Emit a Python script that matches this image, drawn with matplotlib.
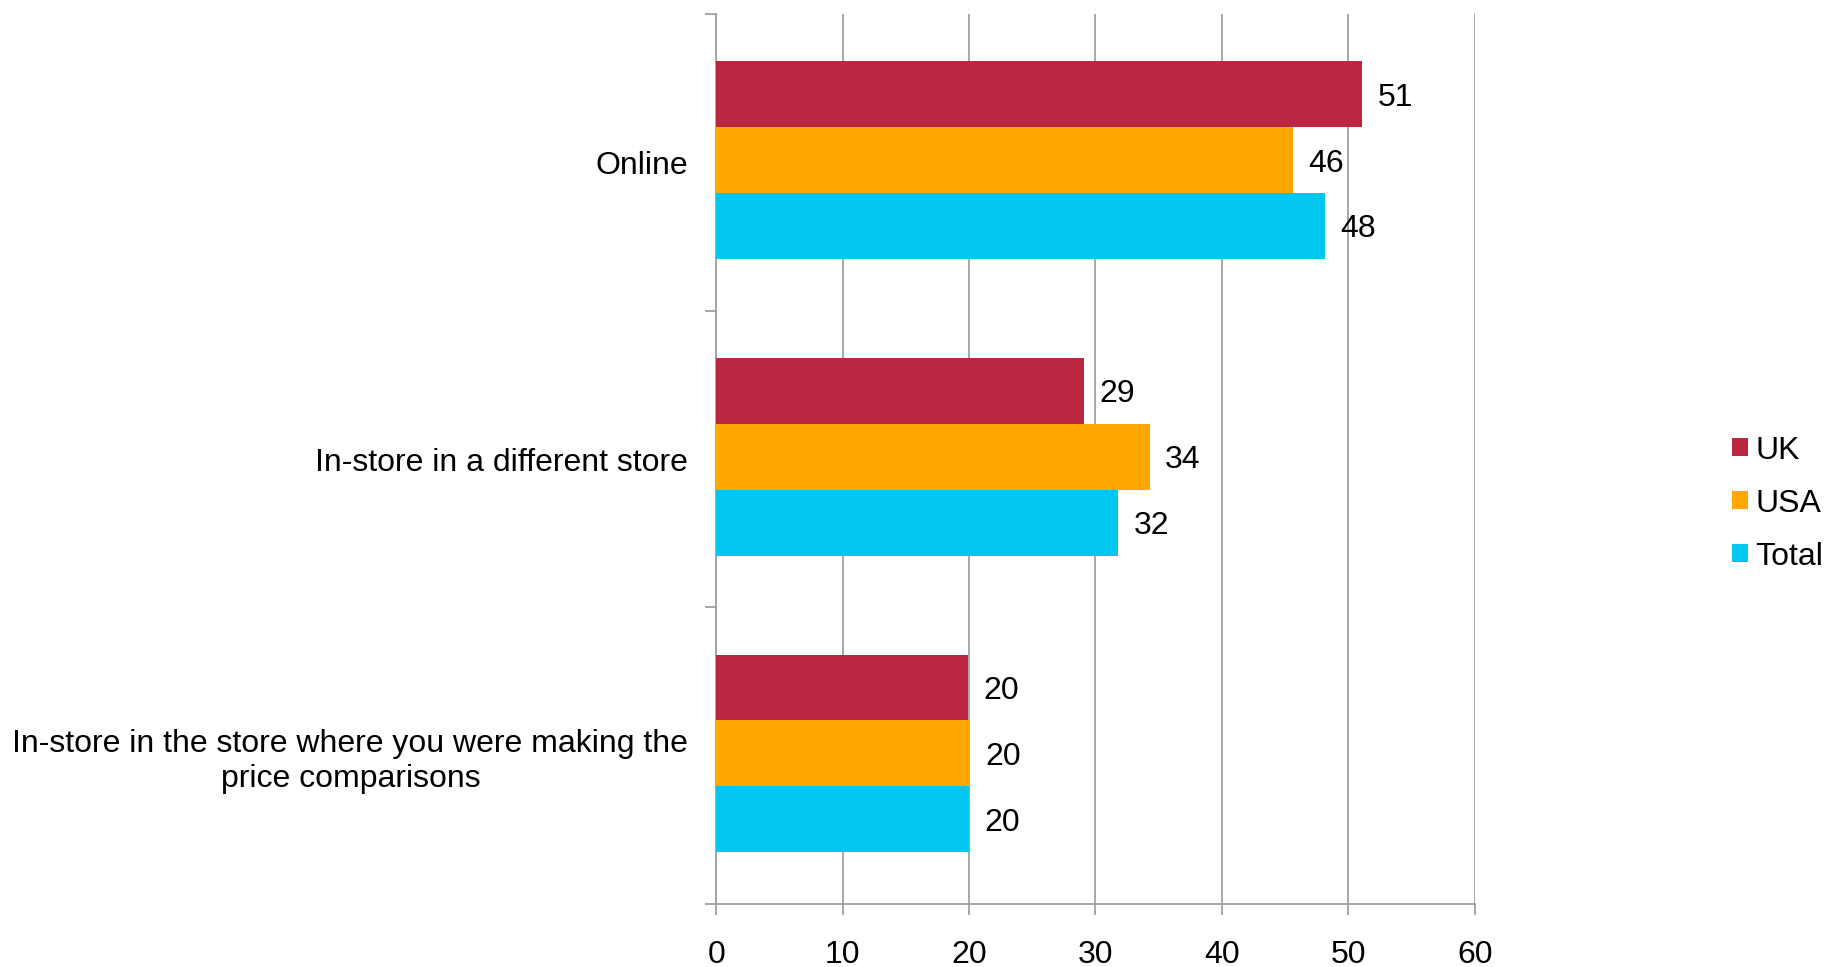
import numpy as np
import matplotlib.pyplot as plt

categories = ['Online', 'In-store in a different store',
              'In-store in the store where you were making the\nprice comparisons']
series = ['UK', 'USA', 'Total']
uk = [51.1, 29.1, 19.9]
usa = [45.6, 34.3, 20.1]
total = [48.2, 31.8, 20.0]
colors = ['#BB2641', '#FFA600', '#00C6F0']
x_ticks = [0, 10, 20, 30, 40, 50, 60]

plt.rcParams['font.family'] = ['Liberation Sans', 'DejaVu Sans']

fig = plt.figure(figsize=(18.41, 9.67), dpi=100)
ax = fig.add_axes([0.389, 0.065, 0.412, 0.9205])

grey = '#A0A0A0'
fs = 23
y = np.arange(len(categories))
h = 0.222
for i, (name, vals, c) in enumerate(zip(series, [uk, usa, total], colors)):
    pos = y + (i - 1) * h - 0.008
    ax.barh(pos, vals, height=h, color=c, label=name, zorder=3)
    for p, v in zip(pos, vals):
        ax.text(v + 1.2, p, f'{v:.0f}', va='center_baseline', ha='left',
                fontsize=fs)

ax.set_xlim(0, 60)
ax.set_ylim(len(categories) - 0.5, -0.5)
ax.set_xticks(x_ticks)
ax.set_yticks(y)
ax.set_yticklabels(categories, multialignment='center')
ax.set_yticks(np.arange(len(categories) + 1) - 0.5, minor=True)

ax.grid(axis='x', color=grey, linewidth=1.3, zorder=0)
for side in ['top', 'right']:
    ax.spines[side].set_visible(False)
for side in ['left', 'bottom']:
    ax.spines[side].set_color(grey)
    ax.spines[side].set_linewidth(1.3)

ax.tick_params(axis='x', direction='out', length=8, width=1.3, color=grey,
               labelsize=fs, pad=18)
ax.tick_params(axis='y', which='major', length=0, labelsize=fs, pad=20)
ax.tick_params(axis='y', which='minor', direction='out', length=8,
               width=1.3, color=grey)

ax.legend(loc='center left', bbox_to_anchor=(1.339, 0.45), frameon=False,
          fontsize=fs, handlelength=0.5, handleheight=0.5, handletextpad=0.25,
          labelspacing=0.72, borderpad=0, borderaxespad=0)

fig.savefig('out.png', dpi=100)
